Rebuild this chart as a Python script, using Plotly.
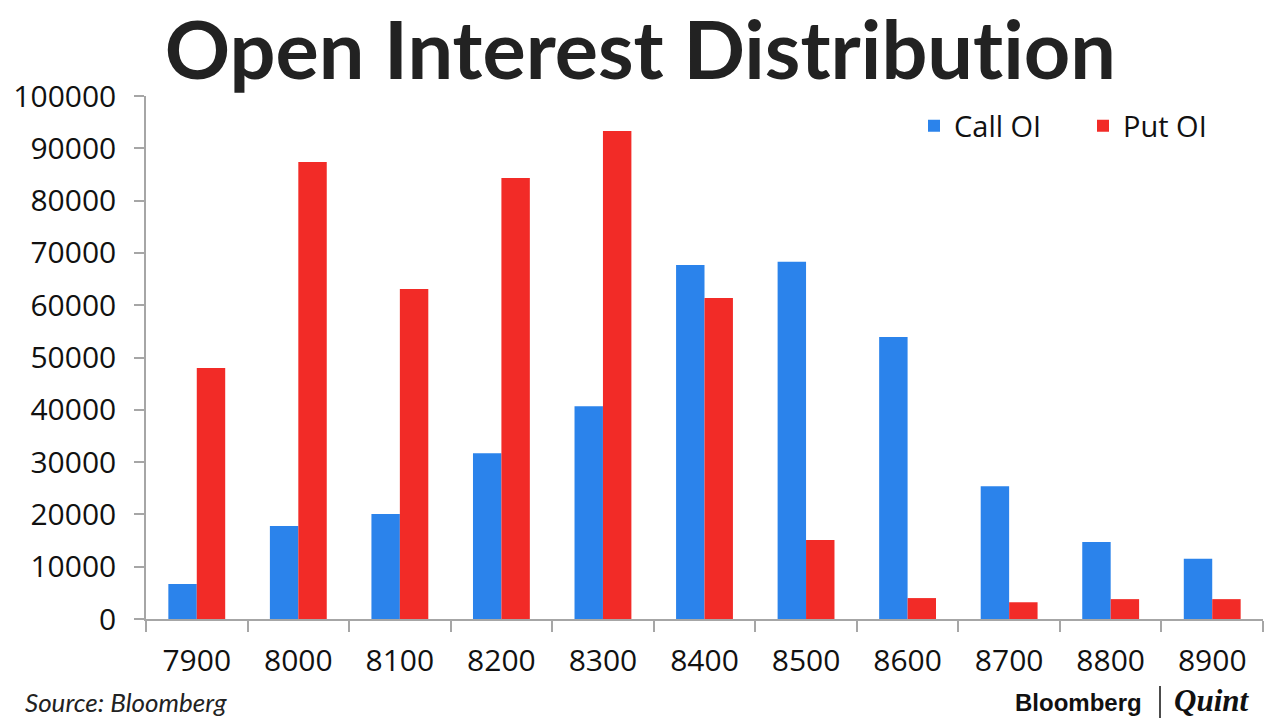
import plotly.graph_objects as go

strikes = ["7900", "8000", "8100", "8200", "8300", "8400", "8500", "8600", "8700", "8800", "8900"]
call_oi = [6700, 17800, 20100, 31700, 40700, 67700, 68300, 53900, 25400, 14700, 11500]
put_oi = [48000, 87400, 63100, 84300, 93300, 61400, 15100, 4000, 3200, 3800, 3800]
y_ticks = [0, 10000, 20000, 30000, 40000, 50000, 60000, 70000, 80000, 90000, 100000]

BLUE = "#2B83EB"
RED = "#F22B27"
AXIS = "#A6A6A6"
TICKFONT = dict(family="Open Sans, Noto Sans, sans-serif", size=30, color="#111111")

L, R, T, B = 146, 17, 96, 101
PW, PH = 1280 - L - R, 720 - T - B


def px(x):
    return (x - L) / PW


def py(y):
    return (720 - B - y) / PH


fig = go.Figure()
fig.add_trace(go.Bar(x=strikes, y=call_oi, name="Call OI", marker=dict(color=BLUE, line=dict(width=0))))
fig.add_trace(go.Bar(x=strikes, y=put_oi, name="Put OI", marker=dict(color=RED, line=dict(width=0))))

fig.update_layout(
    width=1280, height=720,
    paper_bgcolor="white", plot_bgcolor="white",
    margin=dict(l=L, r=R, t=T, b=B, autoexpand=False),
    barmode="group", bargap=0.44, bargroupgap=0,
    showlegend=True,
    legend=dict(orientation="h", x=px(914), y=py(126), xanchor="left", yanchor="middle",
                font=dict(family="Open Sans, Noto Sans, sans-serif", size=29, color="#111111"),
                bgcolor="rgba(0,0,0,0)", itemwidth=30, tracegroupgap=0, entrywidth=124),
    xaxis=dict(type="category", showline=True, linecolor=AXIS, linewidth=1.5,
               ticks="outside", tickson="boundaries", ticklen=11, tickcolor=AXIS, tickwidth=1.5,
               tickfont=TICKFONT, showgrid=False, zeroline=False, ticklabelstandoff=14),
    yaxis=dict(range=[0, 100000], tickvals=y_ticks, ticktext=[str(v) for v in y_ticks],
               showline=True, linecolor=AXIS, linewidth=1.5,
               ticks="outside", ticklen=10, tickcolor=AXIS, tickwidth=1.5,
               tickfont=TICKFONT, showgrid=False, zeroline=False, ticklabelstandoff=12),
)

fig.add_annotation(text="<b>Open Interest Distribu<span>t</span>ion</b>", xref="paper", yref="paper",
                   x=px(640), y=py(48), xanchor="center", yanchor="middle", showarrow=False,
                   font=dict(family="Lato, sans-serif", size=81, color="#222222"))
fig.add_annotation(text="<i>Source: Bloomberg</i>", xref="paper", yref="paper",
                   x=px(23), y=py(702), xanchor="left", yanchor="middle", showarrow=False,
                   font=dict(family="Lato, sans-serif", size=26, color="#222222"))
fig.add_annotation(text="<b>Bloomberg</b>", xref="paper", yref="paper",
                   x=px(1144), y=py(702), xanchor="right", yanchor="middle", showarrow=False,
                   font=dict(family="Liberation Sans, Arial, sans-serif", size=24, color="#111111"))
fig.add_shape(type="line", xref="paper", yref="paper", x0=px(1160), x1=px(1160), y0=py(686), y1=py(718),
              line=dict(color="#111111", width=1.5))
fig.add_annotation(text="<b><i>Quint</i></b>", xref="paper", yref="paper",
                   x=px(1172), y=py(700), xanchor="left", yanchor="middle", showarrow=False,
                   font=dict(family="Liberation Serif, serif", size=31, color="#111111"))

fig.write_html("out.html", config={"displayModeBar": False},
               post_script="document.body.style.margin='0';document.body.style.overflow='hidden';"
                           "document.querySelectorAll('text').forEach(function(t){t.style.fontVariantLigatures='none';});")
